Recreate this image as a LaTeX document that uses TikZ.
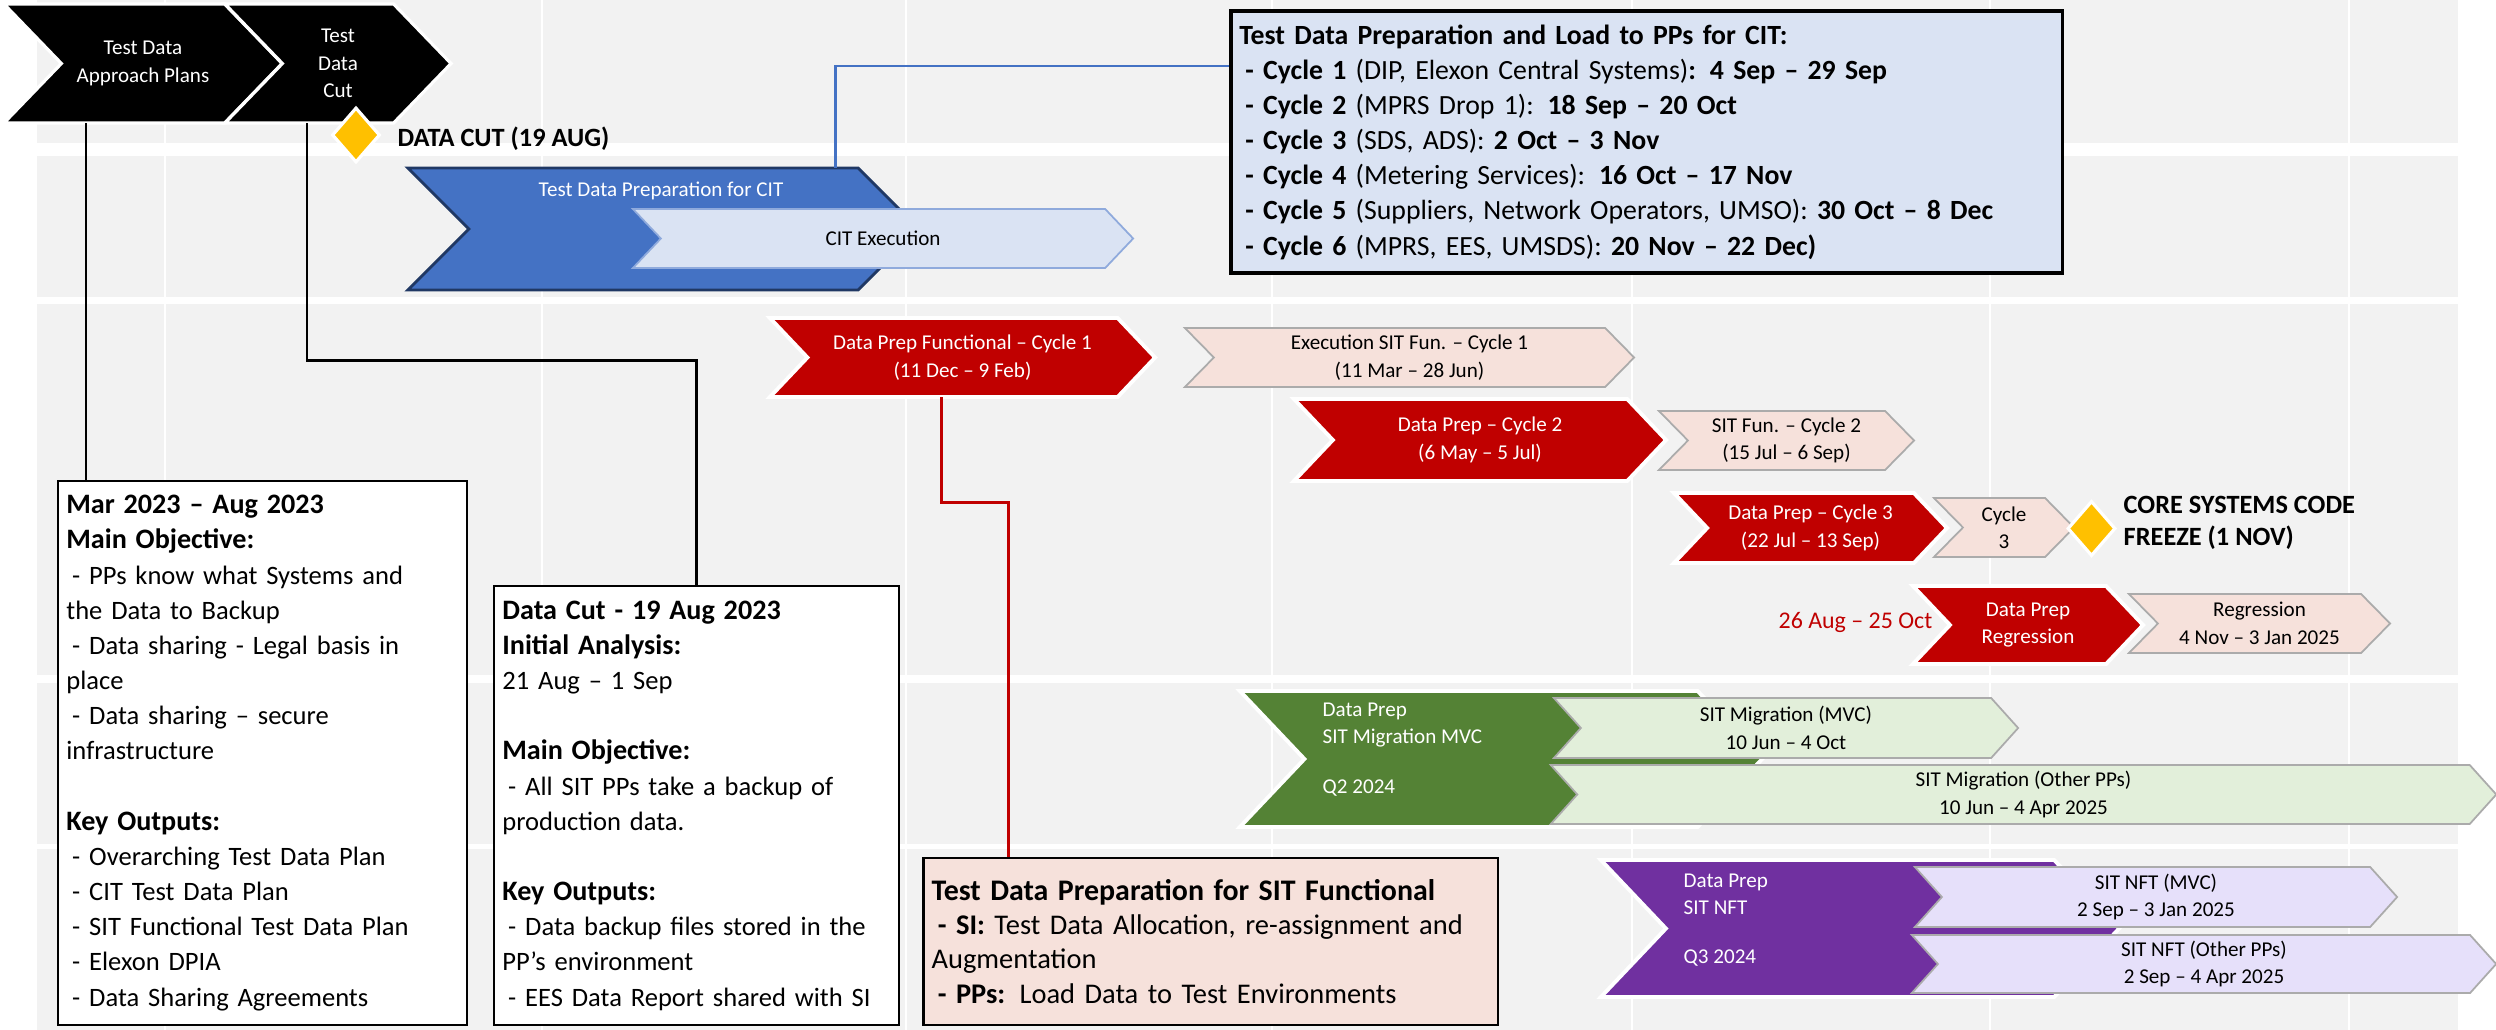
\documentclass[tikz,border=0pt]{standalone}
\usepackage{fontspec}
\setmainfont{Carlito}
\usepackage{xcolor}
\definecolor{planBand}{HTML}{F2F2F2}
\definecolor{planBlue}{HTML}{4472C4}
\definecolor{planNavy}{HTML}{203864}
\definecolor{planBlueLight}{HTML}{DAE3F3}
\definecolor{planBlueEdge}{HTML}{8FAADC}
\definecolor{planRed}{HTML}{C00000}
\definecolor{planPink}{HTML}{F6E1DB}
\definecolor{planEdge}{HTML}{ABABAB}
\definecolor{planGreen}{HTML}{548235}
\definecolor{planGreenLight}{HTML}{E2EFDA}
\definecolor{planPurple}{HTML}{7030A0}
\definecolor{planPurpleLight}{HTML}{E6E0FA}
\definecolor{planYellow}{HTML}{FFC000}
\usepackage{tikz}
\usetikzlibrary{shapes,positioning,calc}
\newcommand{\planitem}{\hspace*{0.22em}- }
\newcommand{\planhead}[1]{{\fontsize{8}{10}\selectfont\bfseries #1}}
\tikzset{
    chevron/.style={
        signal,
        signal from=west,
        signal to=east,
        signal pointer angle=92,
        inner sep=0pt,
        outer sep=0pt,
        align=center,
        font=\fontsize{6}{7.8}\selectfont
    },
    blackchev/.style={
        chevron,
        fill=black,
        draw=white,
        line width=0.9pt,
        text=white
    },
    bluechev/.style={
        chevron,
        fill=planBlue,
        draw=planNavy,
        line width=0.8pt,
        signal pointer angle=90
    },
    lightbluechev/.style={
        chevron,
        fill=planBlueLight,
        draw=planBlueEdge,
        line width=0.5pt,
        signal pointer angle=93
    },
    redchev/.style={
        chevron,
        fill=planRed,
        draw=white,
        line width=1.1pt,
        text=white,
        signal pointer angle=93
    },
    pinkchev/.style={
        chevron,
        fill=planPink,
        draw=planEdge,
        line width=0.5pt,
        signal pointer angle=91
    },
    greenchev/.style={
        chevron,
        fill=planGreen,
        draw=white,
        line width=1.1pt,
        signal pointer angle=93
    },
    lightgreenchev/.style={
        chevron,
        fill=planGreenLight,
        draw=planEdge,
        line width=0.5pt,
        signal pointer angle=96
    },
    purplechev/.style={
        chevron,
        fill=planPurple,
        draw=white,
        line width=1.1pt,
        signal pointer angle=93
    },
    lightpurplechev/.style={
        chevron,
        fill=planPurpleLight,
        draw=planEdge,
        line width=0.5pt,
        signal pointer angle=96
    },
    phasetext/.style={
        text=white,
        align=left,
        anchor=west,
        inner sep=0pt,
        font=\fontsize{6}{7.8}\selectfont
    },
    milestone/.style={
        diamond,
        fill=planYellow,
        draw=white,
        line width=0.9pt,
        minimum width=0.48cm,
        minimum height=0.55cm,
        inner sep=0pt
    },
    milestonelbl/.style={
        anchor=west,
        align=left,
        inner sep=0pt,
        font=\fontsize{7.5}{9.1}\selectfont\bfseries
    },
    notebox/.style={
        draw=black,
        fill=white,
        line width=0.75pt,
        align=left,
        inner xsep=0.07cm,
        inner ysep=0pt,
        font=\fontsize{7.55}{10}\selectfont
    },
    conn/.style={
        draw=black,
        line width=0.85pt
    },
    blueconn/.style={
        draw=planBlue,
        line width=0.85pt
    },
    redconn/.style={
        draw=planRed,
        line width=0.85pt
    }
}

\begin{document}
\begin{tikzpicture}[x=0.01cm,y=-0.01cm]
    \useasboundingbox (0,0) rectangle (2496,1030);
    \fill[white] (0,0) rectangle (2496,1030);

    % Background bands
    \fill[planBand] (37,0) rectangle (2458,143);
    \fill[planBand] (37,156) rectangle (2458,297);
    \fill[planBand] (37,304) rectangle (2458,675);
    \fill[planBand] (37,683) rectangle (2458,844);
    \fill[planBand] (37,849) rectangle (2458,1030);
    \foreach \x in {165,542,906,1272,1632,1990,2349}
        \draw[white, line width=0.6pt] (\x,0) -- (\x,1030);

    % Approach phases
    \node[blackchev, minimum width=2.78cm, minimum height=1.19cm]
        (plans) at (143,63.5) {Test Data\\Approach Plans};
    \node[blackchev, minimum width=2.26cm, minimum height=1.19cm]
        (cut) at (338,63.5) {Test\\Data\\Cut};
    \node[milestone] (datacut) at (356,135) {};
    \node[milestonelbl] (datacutlbl) at (397,139) {DATA CUT (19 AUG)};

    % CIT
    \node[bluechev, minimum width=5.11cm, minimum height=1.22cm]
        (citprep) at (663.5,229) {};
    \node[phasetext, anchor=center] (citpreptxt) at (661,191) {Test Data Preparation for CIT};
    \node[lightbluechev, minimum width=5cm, minimum height=0.59cm]
        (citexec) at (883,238.5) {CIT Execution};
    \node[notebox, fill=planBlueLight, line width=1pt, minimum width=8.31cm,
        minimum height=2.62cm, text width=8.14cm, font=\fontsize{7.9}{10}\selectfont]
        (citbox) at (1646.5,142) {%
        \textbf{Test Data Preparation and Load to PPs for CIT:}\\
        \textbf{\planitem Cycle 1} (DIP, Elexon Central Systems)\textbf{: 4 Sep – 29 Sep}\\
        \textbf{\planitem Cycle 2} (MPRS Drop 1): \textbf{18 Sep – 20 Oct}\\
        \textbf{\planitem Cycle 3} (SDS, ADS): \textbf{2 Oct – 3 Nov}\\
        \textbf{\planitem Cycle 4} (Metering Services): \textbf{16 Oct – 17 Nov}\\
        \textbf{\planitem Cycle 5} (Suppliers, Network Operators, UMSO): \textbf{30 Oct – 8 Dec}\\
        \textbf{\planitem Cycle 6} (MPRS, EES, UMSDS): \textbf{20 Nov – 22 Dec)}};

    % SIT functional
    \node[redchev, minimum width=3.85cm, minimum height=0.79cm]
        (fun1) at (962.5,357.5) {Data Prep Functional – Cycle 1\\(11 Dec – 9 Feb)};
    \node[pinkchev, minimum width=4.49cm, minimum height=0.59cm]
        (exec1) at (1409.5,357.5) {Execution SIT Fun. – Cycle 1\\(11 Mar – 28 Jun)};
    \node[redchev, minimum width=3.72cm, minimum height=0.82cm]
        (fun2) at (1480,440) {Data Prep – Cycle 2\\(6 May – 5 Jul)};
    \node[pinkchev, minimum width=2.55cm, minimum height=0.59cm]
        (sit2) at (1786.5,440.5) {SIT Fun. – Cycle 2\\(15 Jul – 6 Sep)};
    \node[redchev, minimum width=2.73cm, minimum height=0.7cm]
        (fun3) at (1810.5,528) {Data Prep – Cycle 3\\(22 Jul – 13 Sep)};
    \node[pinkchev, minimum width=1.4cm, minimum height=0.59cm]
        (cyc3) at (2004,527.5) {Cycle\\3};
    \node[milestone] (freeze) at (2091.5,528.5) {};
    \node[milestonelbl] (freezelbl) at (2123,523) {CORE SYSTEMS CODE\\FREEZE (1 NOV)};

    % Regression
    \node[anchor=east, inner sep=0pt, text=planRed, font=\fontsize{6.8}{8}\selectfont]
        (regdate) at (1933,622) {26 Aug – 25 Oct};
    \node[redchev, minimum width=2.3cm, minimum height=0.78cm]
        (regprep) at (2028,625) {Data Prep\\Regression};
    \node[pinkchev, minimum width=2.61cm, minimum height=0.59cm]
        (regexec) at (2259.5,623.5) {Regression\\4 Nov – 3 Jan 2025};

    % SIT migration
    \node[greenchev, minimum width=5.22cm, minimum height=1.36cm]
        (migprep) at (1501,759) {};
    \node[phasetext] (migtxt) at (1322,725) {Data Prep\\SIT Migration MVC};
    \node[phasetext] (migq) at (1322,788) {Q2 2024};
    \node[lightgreenchev, minimum width=4.64cm, minimum height=0.6cm]
        (migmvc) at (1786,728) {SIT Migration (MVC)\\10 Jun – 4 Oct};
    \node[lightgreenchev, minimum width=9.45cm, minimum height=0.59cm]
        (migoth) at (2023.5,794.5) {SIT Migration (Other PPs)\\10 Jun – 4 Apr 2025};

    % SIT NFT
    \node[purplechev, minimum width=5.18cm, minimum height=1.37cm]
        (nftprep) at (1860,928.5) {};
    \node[phasetext] (nfttxt) at (1683,894.5) {Data Prep\\SIT NFT};
    \node[phasetext] (nftq) at (1683,958) {Q3 2024};
    \node[lightpurplechev, minimum width=4.82cm, minimum height=0.6cm]
        (nftmvc) at (2156,897) {SIT NFT (MVC)\\2 Sep – 3 Jan 2025};
    \node[lightpurplechev, minimum width=5.84cm, minimum height=0.58cm]
        (nftoth) at (2204,964) {SIT NFT (Other PPs)\\2 Sep – 4 Apr 2025};

    % Notes
    \node[notebox, minimum width=4.09cm, minimum height=5.44cm, text width=3.92cm]
        (box1) at (262.5,753) {%
        \planhead{Mar 2023 – Aug 2023}\\
        \planhead{Main Objective:}\\
        \planitem PPs know what Systems and\\
        the Data to Backup\\
        \planitem Data sharing - Legal basis in\\
        place\\
        \planitem Data sharing – secure\\
        infrastructure\\[10pt]
        \planhead{Key Outputs:}\\
        \planitem Overarching Test Data Plan\\
        \planitem CIT Test Data Plan\\
        \planitem SIT Functional Test Data Plan\\
        \planitem Elexon DPIA\\
        \planitem Data Sharing Agreements};
    \node[notebox, minimum width=4.05cm, minimum height=4.39cm, text width=3.88cm]
        (box2) at (696.5,805.5) {%
        \planhead{Data Cut - 19 Aug 2023}\\
        \planhead{Initial Analysis:}\\
        21 Aug – 1 Sep\\[10pt]
        \planhead{Main Objective:}\\
        \planitem All SIT PPs take a backup of\\
        production data.\\[10pt]
        \planhead{Key Outputs:}\\
        \planitem Data backup files stored in the\\
        PP’s environment\\
        \planitem EES Data Report shared with SI};
    \node[notebox, fill=planPink, minimum width=5.745cm, minimum height=1.67cm,
        text width=5.58cm, font=\fontsize{8.1}{9.7}\selectfont]
        (sitbox) at (1210.75,941.5) {%
        {\fontsize{8.5}{9.7}\selectfont\bfseries Test Data Preparation for SIT Functional}\\
        \textbf{\planitem SI:} Test Data Allocation, re-assignment and\\
        Augmentation\\
        \textbf{\planitem PPs:} Load Data to Test Environments};

    % Connections
    \coordinate (plandrop) at (86,0);
    \coordinate (cutdrop) at (307,0);
    \coordinate (cutknee) at (696.5,360);
    \coordinate (citknee) at (835,66);
    \coordinate (funknee) at (941,502);
    \coordinate (sitknee) at (1008,502);
    \draw[conn] (plans.south -| plandrop) -- (box1.north -| plandrop);
    \draw[conn] (cut.south -| cutdrop) |- (cutknee) -- (box2.north);
    \draw[blueconn] (citprep.north -| citknee) -- (citknee) -- (citknee -| citbox.west);
    \draw[redconn] (fun1.south -| funknee) -- (funknee) -- (sitknee) -- (sitknee |- sitbox.north);
\end{tikzpicture}
\end{document}
